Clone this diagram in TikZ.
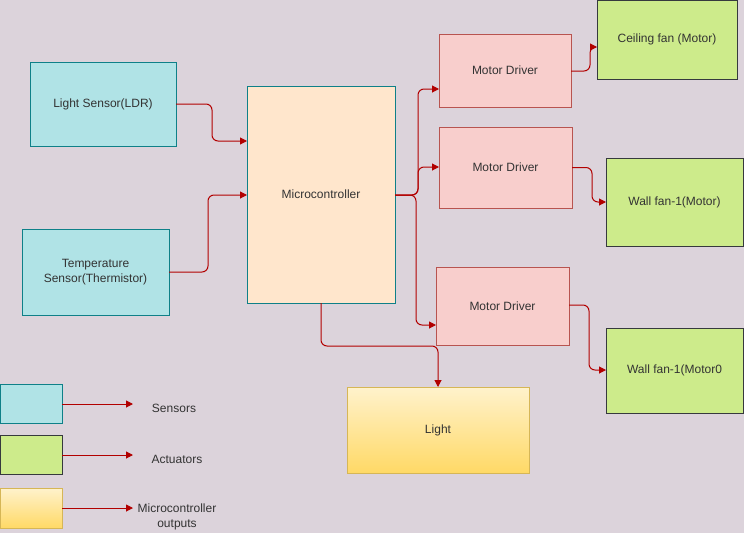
\documentclass[tikz,border=0pt]{standalone}
\usepackage{fontspec}
\setmainfont{Liberation Sans}
\usetikzlibrary{arrows.meta,calc}
\definecolor{bg}{HTML}{DCD3DB}
\definecolor{tealfill}{HTML}{B0E3E6}
\definecolor{tealline}{HTML}{0E8088}
\definecolor{mcfill}{HTML}{FFE6CC}
\definecolor{redfill}{HTML}{F8CECC}
\definecolor{redline}{HTML}{B85450}
\definecolor{greenfill}{HTML}{CDEB8B}
\definecolor{greenline}{HTML}{36393D}
\definecolor{ylight}{HTML}{FFF2CC}
\definecolor{ydark}{HTML}{FFD966}
\definecolor{yline}{HTML}{D6B656}
\definecolor{conncol}{HTML}{B20000}
\definecolor{txt}{HTML}{333333}
\tikzset{
  box/.style={draw, line width=1pt, anchor=north west, inner sep=2pt, outer sep=0pt,
    align=center, text=txt, font=\fontsize{12}{14.5}\selectfont},
  sensorbox/.style={box, fill=tealfill, draw=tealline},
  mcbox/.style={box, fill=mcfill, draw=tealline},
  drvbox/.style={box, fill=redfill, draw=redline},
  actbox/.style={box, fill=greenfill, draw=greenline},
  outbox/.style={box, top color=ylight, bottom color=ydark, draw=yline},
  conn/.style={draw=conncol, line width=1pt, rounded corners=6pt,
    -{Triangle[length=7pt,width=7pt]}},
  lbl/.style={text=txt, font=\fontsize{12}{14.5}\selectfont, align=center, inner sep=0pt}
}
\begin{document}
\begin{tikzpicture}[x=1pt,y=-1pt]
\fill[bg] (0,0) rectangle (744,533);
\useasboundingbox (0,0) rectangle (744,533);

% sensors
\node[sensorbox, minimum width=146pt, minimum height=84pt] (ldr) at (30,62) {Light Sensor(LDR)};
\node[sensorbox, minimum width=147pt, minimum height=86pt] (temp) at (22,229) {Temperature\\Sensor(Thermistor)};
% microcontroller
\node[mcbox, minimum width=148pt, minimum height=217pt] (mc) at (247,86) {Microcontroller};
% drivers
\node[drvbox, minimum width=132pt, minimum height=73pt] (md1) at (439,34) {Motor Driver};
\node[drvbox, minimum width=133pt, minimum height=81pt] (md2) at (439,127) {Motor Driver};
\node[drvbox, minimum width=133pt, minimum height=78pt] (md3) at (436,267) {Motor Driver};
% actuators
\node[actbox, minimum width=140pt, minimum height=79pt] (cf) at (597,0) {Ceiling fan (Motor)};
\node[actbox, minimum width=137pt, minimum height=88pt] (wf1) at (606,158) {Wall fan-1(Motor)};
\node[actbox, minimum width=137pt, minimum height=85pt] (wf2) at (606,328) {Wall fan-1(Motor0};
% light
\node[outbox, minimum width=182pt, minimum height=86pt] (light) at (347,387) {Light};

% connectors
\draw[conn] (ldr.east) -| (212,141) -- (mc.west |- 212,141);
\draw[conn] (temp.east) -| (208,195) -- (mc.west |- 208,195);
\draw[conn] (mc.east |- 0,195) -| (418,89) -- (md1.west |- 418,89);
\draw[conn] (mc.east |- 0,195) -| (418,167) -- (md2.west |- 418,167);
\draw[conn] (mc.east |- 0,195) -| (416,325) -- (md3.west |- 416,325);
\draw[conn] (mc.south -| 321,0) |- (438,346) -- (light.north -| 438,0);
\draw[conn] (md1.east |- 0,71) -| (590,47) -- (cf.west |- 590,47);
\draw[conn] (md2.east) -| (592,202) -- (wf1.west |- 592,202);
\draw[conn] (md3.east |- 0,305) -| (589,370) -- (wf2.west |- 589,370);

% legend
\node[sensorbox, minimum width=62pt, minimum height=39pt] (lg1) at (0,384) {};
\node[actbox, minimum width=62pt, minimum height=39pt] (lg2) at (0,435) {};
\node[outbox, minimum width=62pt, minimum height=40pt] (lg3) at (0,488) {};
\coordinate (e1) at (133,404);
\coordinate (e2) at (133,455);
\coordinate (e3) at (133,508);
\draw[conn] (lg1.east |- e1) -- (e1);
\draw[conn] (lg2.east |- e2) -- (e2);
\draw[conn] (lg3.east |- e3) -- (e3);
\node[lbl] (l1) at (174,408) {Sensors};
\node[lbl] (l2) at (177,459) {Actuators};
\node[lbl] (l3) at (177,517) {Microcontroller\\outputs};
\end{tikzpicture}
\end{document}
